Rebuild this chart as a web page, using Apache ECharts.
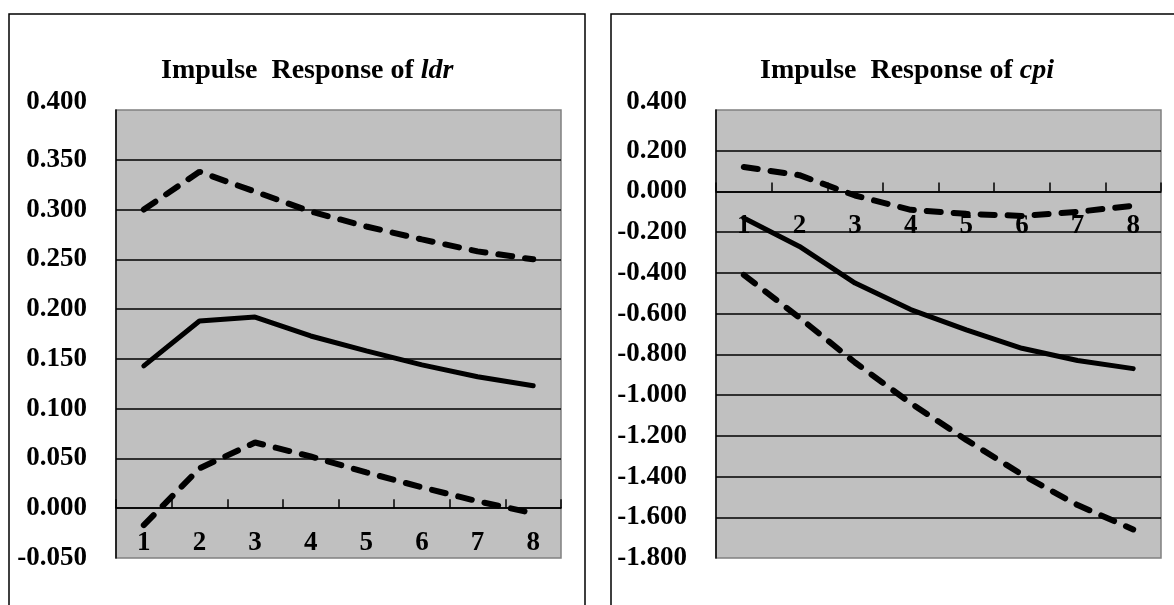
<!DOCTYPE html>
<html>
<head>
<meta charset="utf-8">
<script src="https://cdn.jsdelivr.net/npm/echarts@6/dist/echarts.min.js"></script>
<style>
  html, body { margin: 0; padding: 0; background: #fff; }
  #chart { width: 1174px; height: 605px; }
</style>
</head>
<body>
<div id="chart"></div>
<script>
// periods
var periods = ['1', '2', '3', '4', '5', '6', '7', '8'];

// impulse response of ldr
var ldrUpper = [0.300, 0.338, 0.318, 0.298, 0.283, 0.270, 0.258, 0.250];
var ldrResp  = [0.143, 0.188, 0.192, 0.173, 0.158, 0.144, 0.132, 0.123];
var ldrLower = [-0.017, 0.040, 0.066, 0.052, 0.036, 0.021, 0.007, -0.005];

// impulse response of cpi
var cpiUpper = [0.12, 0.08, -0.02, -0.09, -0.11, -0.12, -0.10, -0.07];
var cpiResp  = [-0.13, -0.27, -0.45, -0.58, -0.68, -0.77, -0.83, -0.87];
var cpiLower = [-0.41, -0.62, -0.84, -1.04, -1.22, -1.39, -1.54, -1.66];

// axis ranges: min, max, step
var ldrRange = [-0.05, 0.4, 0.05];
var cpiRange = [-1.8, 0.4, 0.2];

var FONT = 'Liberation Serif';
var PLOT_H = 448;

var titleStyle = function () {
    return {
        rich: {
            a: { fontFamily: FONT, fontWeight: 'bold', fontSize: 28, color: '#000' },
            b: { fontFamily: FONT, fontWeight: 'bold', fontStyle: 'italic', fontSize: 28, color: '#000' }
        }
    };
};

// category axis sits on the zero line of the value axis
var makeX = function (gi, range) {
    return {
        type: 'category',
        gridIndex: gi,
        data: periods,
        boundaryGap: true,
        offset: -(0 - range[0]) / (range[1] - range[0]) * PLOT_H,
        axisLine: { onZero: false, lineStyle: { color: '#000', width: 1.5 } },
        axisTick: { show: true, inside: true, interval: 0, length: 9, lineStyle: { color: '#000', width: 1.5 } },
        axisLabel: { margin: 21, fontFamily: FONT, fontWeight: 'bold', fontSize: 27, color: '#000' },
        splitLine: { show: false },
        z: 3
    };
};

var makeY = function (gi, range) {
    return {
        type: 'value',
        gridIndex: gi,
        min: range[0],
        max: range[1],
        interval: range[2],
        axisLine: { show: true, onZero: false, lineStyle: { color: '#000', width: 1.5 } },
        axisTick: { show: false },
        axisLabel: {
            margin: 29,
            fontFamily: FONT, fontWeight: 'bold', fontSize: 27, color: '#000',
            formatter: function (v) {
                var s = v.toFixed(3);
                return Math.abs(v - range[1]) < 1e-9 ? '{top|' + s + '}' : s;
            },
            rich: {
                top: { fontFamily: FONT, fontWeight: 'bold', fontSize: 27, color: '#000', padding: [0, 0, 16, 0] }
            }
        },
        splitLine: { show: true, showMinLine: false, showMaxLine: false, lineStyle: { color: '#000', width: 1.5 } }
    };
};

var line = function (gi, data, dashed) {
    return {
        type: 'line',
        xAxisIndex: gi,
        yAxisIndex: gi,
        data: data,
        symbol: 'none',
        lineStyle: {
            color: '#000',
            width: dashed ? 6 : 5,
            type: dashed ? [14, 13] : 'solid',
            cap: 'round'
        },
        z: 5
    };
};

var chart = echarts.init(document.getElementById('chart'));
chart.setOption({
    animation: false,
    backgroundColor: '#fff',
    title: [
        { text: '{a|Impulse  Response of }{b|ldr}', left: 156, top: 52, textStyle: titleStyle() },
        { text: '{a|Impulse  Response of }{b|cpi}', left: 755, top: 52, textStyle: titleStyle() }
    ],
    graphic: [
        { type: 'rect', shape: { x: 9, y: 14, width: 576, height: 640 }, style: { fill: 'none', stroke: '#000', lineWidth: 1.5 } },
        { type: 'rect', shape: { x: 611, y: 14, width: 640, height: 640 }, style: { fill: 'none', stroke: '#000', lineWidth: 1.5 } }
    ],
    grid: [
        { left: 116, top: 110, width: 445, height: PLOT_H, show: true, backgroundColor: '#c0c0c0', borderColor: '#808080', borderWidth: 1.5 },
        { left: 716, top: 110, width: 445, height: PLOT_H, show: true, backgroundColor: '#c0c0c0', borderColor: '#808080', borderWidth: 1.5 }
    ],
    xAxis: [makeX(0, ldrRange), makeX(1, cpiRange)],
    yAxis: [makeY(0, ldrRange), makeY(1, cpiRange)],
    series: [
        line(0, ldrUpper, true),
        line(0, ldrResp, false),
        line(0, ldrLower, true),
        line(1, cpiUpper, true),
        line(1, cpiResp, false),
        line(1, cpiLower, true)
    ]
});
</script>
</body>
</html>
